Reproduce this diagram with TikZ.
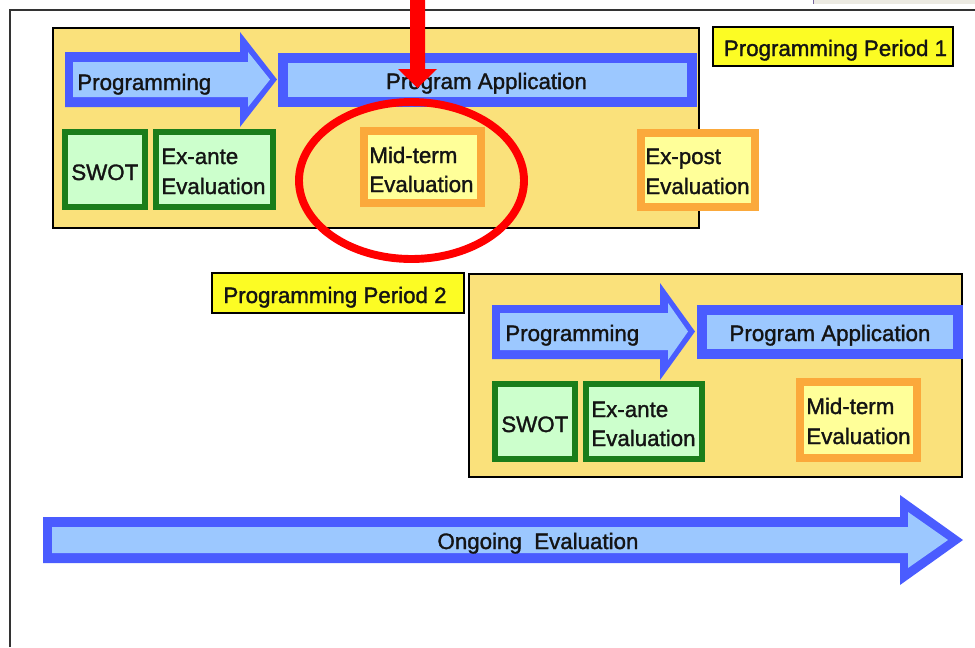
\documentclass[tikz,border=0pt]{standalone}
\usepackage{fontspec}
\setmainfont{Liberation Sans}
\newfontfamily\diagfont{Liberation Sans}[FakeBold=1.4]
\usetikzlibrary{shapes.geometric}
\definecolor{blueline}{HTML}{4A5CFF}
\definecolor{bluefill}{HTML}{9CC8FF}
\definecolor{greenline}{HTML}{1A7D1A}
\definecolor{greenfill}{HTML}{CCFFCC}
\definecolor{orangeline}{HTML}{FBA93B}
\definecolor{lightyel}{HTML}{FFFF99}
\definecolor{boxyel}{HTML}{FAE17B}
\definecolor{tagyel}{HTML}{FCFC24}
\definecolor{textcol}{HTML}{141414}
\definecolor{framecol}{HTML}{333333}
\definecolor{artgrey}{HTML}{ECEAE2}
\definecolor{artedge}{HTML}{7A6AA0}
\begin{document}
\begin{tikzpicture}[x=0.02cm,y=-0.02cm,
  sz/.style 2 args={minimum width=#1*0.02cm, minimum height=#2*0.02cm, inner sep=0pt},
  txt/.style={font=\diagfont\fontsize{12.7}{16.5}\selectfont, text=textcol, inner sep=0pt},
  lt/.style={txt, anchor=base west},
  ct/.style={txt, anchor=base},
  bluebox/.style={draw=blueline, fill=bluefill, line width=5.5pt},
  greenbox/.style={draw=greenline, fill=greenfill, line width=3.5pt},
  orangebox/.style={draw=orangeline, fill=lightyel, line width=4pt},
  period/.style={draw=black, fill=boxyel, line width=1pt},
  tag/.style={draw=black, fill=tagyel, line width=1pt}]
\useasboundingbox (0,0) rectangle (975,647);
% screenshot frame
\fill[artgrey] (813,0) rectangle (975,3.5);
\draw[artedge, line width=0.8pt] (813.5,0) -- (813.5,3.5);
\draw[framecol, line width=1.1pt] (10,647) -- (10,10) -- (975,10);

% ---------- Period 1 ----------
\node[period, sz={646}{200}] (p1) at (376,128) {};
\node[tag, sz={240}{39}] (t1) at (833,46.5) {};
\node[ct] (t1t) at (835.5,56) {Programming Period 1};

\fill[blueline] (65,52) -- (240,52) -- (240,32) -- (277,79.5) -- (240,127) -- (240,107) -- (65,107) -- cycle;
\fill[bluefill] (73,62) -- (248,62) -- (248,52) -- (270,79.5) -- (248,107) -- (248,97) -- (73,97) -- cycle;
\node[lt] (prog1) at (77,90) {Programming};
\node[bluebox, sz={409}{44}] (pa1) at (487.5,80) {};
\node[ct] (pa1t) at (486.5,89) {Program Application};

\node[greenbox, sz={80}{75}] (swot1) at (105,169.5) {};
\node[lt] (swot1t) at (71,180) {SWOT};
\node[greenbox, sz={117}{75}] (exa1) at (214.5,169.5) {};
\node[lt] (exa1a) at (161,164) {Ex-ante};
\node[lt] (exa1b) at (161,194) {Evaluation};
\node[orangebox, sz={117}{72}] (mid1) at (422.5,167) {};
\node[lt] (mid1a) at (369,163) {Mid-term};
\node[lt] (mid1b) at (369,192) {Evaluation};
\node[orangebox, sz={114}{74}] (exp1) at (698,170) {};
\node[lt] (exp1a) at (645,164) {Ex-post};
\node[lt] (exp1b) at (645,194) {Evaluation};

\node[ellipse, draw=red, line width=4.5pt, inner sep=0pt,
      minimum width=225*0.02cm, minimum height=157*0.02cm] (ring) at (411.5,180.5) {};

% ---------- Period 2 ----------
\node[tag, sz={252}{40}] (t2) at (338,293) {};
\node[ct] (t2t) at (335,303) {Programming Period 2};
\node[period, sz={493}{203}] (p2) at (715.5,375.5) {};

\fill[blueline] (492,305) -- (660,305) -- (660,283) -- (695,331.5) -- (660,380) -- (660,359) -- (492,359) -- cycle;
\fill[bluefill] (500,313) -- (668,313) -- (668,303) -- (688,331.5) -- (668,360) -- (668,350) -- (500,350) -- cycle;
\node[lt] (prog2) at (505,341) {Programming};
\node[bluebox, sz={256}{44}] (pa2) at (830,332) {};
\node[ct] (pa2t) at (830,341) {Program Application};

\node[greenbox, sz={80}{75}] (swot2) at (535,421.5) {};
\node[lt] (swot2t) at (501,432) {SWOT};
\node[greenbox, sz={116}{75}] (exa2) at (644,421.5) {};
\node[lt] (exa2a) at (591,417) {Ex-ante};
\node[lt] (exa2b) at (591,446) {Evaluation};
\node[orangebox, sz={117}{76}] (mid2) at (858.5,420) {};
\node[lt] (mid2a) at (806,414) {Mid-term};
\node[lt] (mid2b) at (806,444) {Evaluation};

% ---------- Ongoing ----------
\fill[blueline] (43,517) -- (900,517) -- (900,495) -- (963,540) -- (900,585) -- (900,563) -- (43,563) -- cycle;
\fill[bluefill] (52,527) -- (908,527) -- (908,512) -- (948,540) -- (908,568) -- (908,553) -- (52,553) -- cycle;
\node[ct] (ongo) at (538,549) {Ongoing\ \ Evaluation};

% ---------- red pointer ----------
\fill[red] (410,0) -- (425,0) -- (425,69) -- (437,69) -- (417.5,88) -- (398,69) -- (410,69) -- cycle;
\end{tikzpicture}
\end{document}
